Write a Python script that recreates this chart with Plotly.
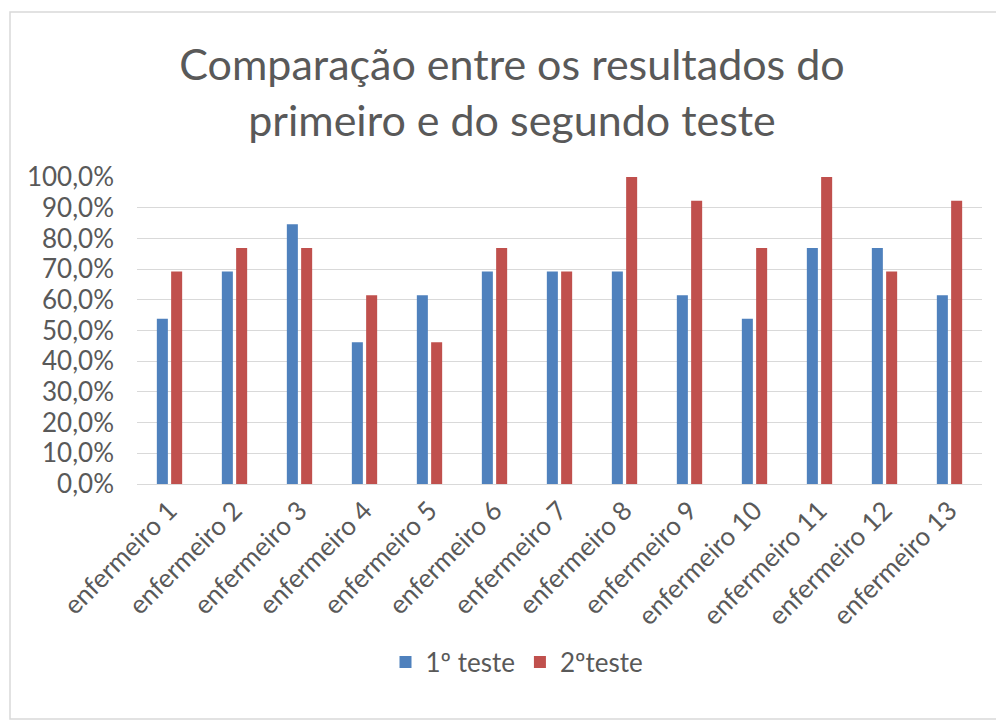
import plotly.graph_objects as go

categories = [f"enfermeiro {i}" for i in range(1, 14)]
teste1 = [0.538, 0.692, 0.846, 0.462, 0.615, 0.692, 0.692, 0.692, 0.615, 0.538, 0.769, 0.769, 0.615]
teste2 = [0.692, 0.769, 0.769, 0.615, 0.462, 0.769, 0.692, 1.0, 0.923, 0.769, 1.0, 0.692, 0.923]
series_names = ["1º teste", "2ºteste"]
colors = ["#4f81bd", "#c0504d"]

W, H = 1004, 722
OFF = 8  # page body margin offset
pw, ph = 845, 307
L, T = 137 - OFF, 177 - OFF
R, B = W - L - pw, H - T - ph

def px_to_paper_x(x):
    return (x - OFF - L) / pw

def px_to_paper_y(y):
    return (T + ph - (y - OFF)) / ph

font = "Lato"
grey = "#595959"

fig = go.Figure()
for name, vals, col in zip(series_names, [teste1, teste2], colors):
    fig.add_trace(go.Bar(x=categories, y=vals, name=name, marker_color=col,
                         marker_line_width=0))

fig.update_layout(
    width=W, height=H,
    margin=dict(l=L, r=R, t=T, b=B, autoexpand=False),
    paper_bgcolor="white", plot_bgcolor="white",
    separators=",.",
    barmode="group", bargap=0.56, bargroupgap=0.23,
    font=dict(family=font, color=grey),
    title=dict(text="Comparação entre os resultados do<br>primeiro e do segundo teste",
               x=(512 - OFF) / W, xanchor="center", y=1 - 72 / H, yanchor="middle",
               font=dict(size=43, color=grey, family=font)),
    legend=dict(orientation="h", x=px_to_paper_x(517), xanchor="center",
                y=px_to_paper_y(662), yanchor="middle",
                font=dict(size=26, color=grey), itemwidth=30,
                traceorder="normal"),
    xaxis=dict(tickangle=-45, tickfont=dict(size=26, color=grey),
               showline=True, linecolor="#d9d9d9", linewidth=1,
               ticks="", showgrid=False, automargin=False),
    yaxis=dict(range=[0, 1], dtick=0.1, tickformat=".1%",
               tickfont=dict(size=26, color=grey), ticklabelstandoff=22,
               showgrid=True, gridcolor="#d9d9d9", gridwidth=1,
               zeroline=False, ticks="", showline=False, automargin=False),
    shapes=[dict(type="rect", xref="paper", yref="paper",
                 x0=px_to_paper_x(10), x1=px_to_paper_x(1001),
                 y0=px_to_paper_y(719), y1=px_to_paper_y(12),
                 line=dict(color="#d9d9d9", width=1.5), fillcolor="rgba(0,0,0,0)",
                 layer="below")],
)

fig.write_html("out.html")
